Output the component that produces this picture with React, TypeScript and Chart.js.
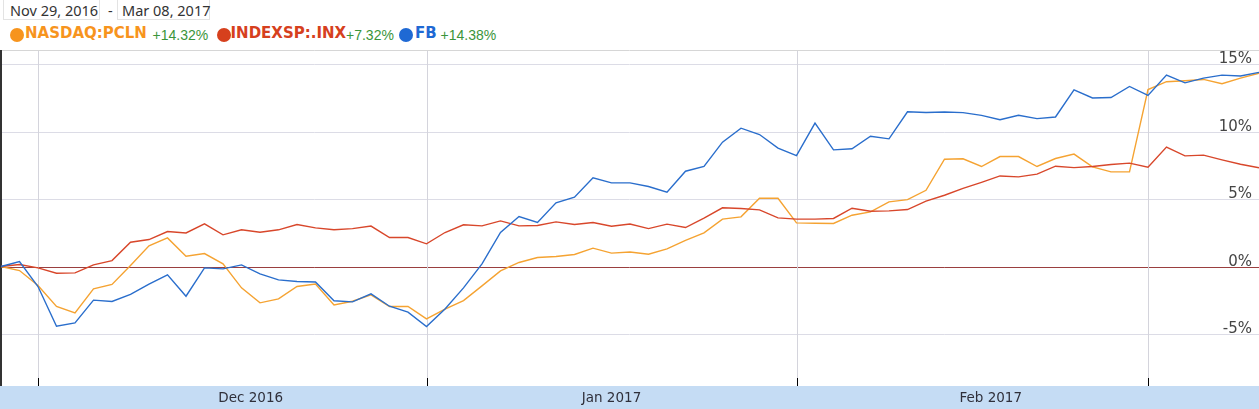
import React, { useEffect, useRef } from "react";
import { Chart, registerables } from "chart.js";

Chart.register(...registerables);

const dates = [
  "2016-11-29", "2016-11-30",
  "2016-12-01", "2016-12-02", "2016-12-05", "2016-12-06", "2016-12-07", "2016-12-08", "2016-12-09",
  "2016-12-12", "2016-12-13", "2016-12-14", "2016-12-15", "2016-12-16", "2016-12-19", "2016-12-20",
  "2016-12-21", "2016-12-22", "2016-12-23", "2016-12-27", "2016-12-28", "2016-12-29", "2016-12-30",
  "2017-01-03", "2017-01-04", "2017-01-05", "2017-01-06", "2017-01-09", "2017-01-10", "2017-01-11",
  "2017-01-12", "2017-01-13", "2017-01-17", "2017-01-18", "2017-01-19", "2017-01-20", "2017-01-23",
  "2017-01-24", "2017-01-25", "2017-01-26", "2017-01-27", "2017-01-30", "2017-01-31",
  "2017-02-01", "2017-02-02", "2017-02-03", "2017-02-06", "2017-02-07", "2017-02-08", "2017-02-09",
  "2017-02-10", "2017-02-13", "2017-02-14", "2017-02-15", "2017-02-16", "2017-02-17", "2017-02-21",
  "2017-02-22", "2017-02-23", "2017-02-24", "2017-02-27", "2017-02-28",
  "2017-03-01", "2017-03-02", "2017-03-03", "2017-03-06", "2017-03-07", "2017-03-08", "2017-03-09",
];

const pclnValues = [
  0, -0.3, -1.41, -2.96, -3.43, -1.65, -1.33, 0.07, 1.53, 2.12,
  0.77, 0.96, 0.2, -1.58, -2.69, -2.4, -1.48, -1.3, -2.84, -2.57,
  -2.1, -2.96, -2.96, -3.88, -3.16, -2.52, -1.43, -0.32, 0.3, 0.67,
  0.74, 0.89, 1.36, 0.99, 1.08, 0.91, 1.31, 1.93, 2.49, 3.51,
  3.68, 5.06, 5.06, 3.23, 3.21, 3.19, 3.8, 4.05, 4.79, 4.96,
  5.65, 7.95, 7.98, 7.41, 8.15, 8.15, 7.41, 8.0, 8.33, 7.38,
  7.01, 7.01, 13.11, 13.69, 13.76, 13.86, 13.54, 13.96, 14.32,
];

const spxValues = [
  0, 0.15, -0.1, -0.5, -0.47, 0.12, 0.44, 1.8, 2.0, 2.59,
  2.49, 3.16, 2.35, 2.72, 2.54, 2.72, 3.11, 2.86, 2.72, 2.81,
  3.0, 2.15, 2.15, 1.68, 2.52, 3.09, 3.01, 3.38, 3.01, 3.04,
  3.31, 3.11, 3.26, 2.99, 3.15, 2.81, 3.14, 2.89, 3.58, 4.35,
  4.3, 4.2, 3.6, 3.51, 3.51, 3.56, 4.32, 4.1, 4.12, 4.22,
  4.84, 5.28, 5.79, 6.24, 6.71, 6.64, 6.84, 7.43, 7.33, 7.41,
  7.56, 7.66, 7.36, 8.85, 8.2, 8.25, 7.9, 7.58, 7.32,
];

const fbValues = [
  0, 0.37, -1.48, -4.42, -4.17, -2.49, -2.59, -2.07, -1.31, -0.62,
  -2.2, -0.1, -0.17, 0.12, -0.54, -0.99, -1.11, -1.15, -2.54, -2.62,
  -2.02, -2.94, -3.38, -4.44, -3.14, -1.58, 0.2, 2.52, 3.7, 3.26,
  4.72, 5.14, 6.57, 6.2, 6.2, 5.93, 5.51, 7.06, 7.41, 9.21,
  10.25, 9.78, 8.77, 8.22, 10.62, 8.64, 8.72, 9.65, 9.46, 11.46,
  11.41, 11.45, 11.4, 11.2, 10.88, 11.2, 10.96, 11.08, 13.09, 12.49,
  12.52, 13.34, 12.67, 14.18, 13.61, 13.96, 14.18, 14.11, 14.38,
];

const seriesNames = ["NASDAQ:PCLN", "INDEXSP:.INX", "FB"];
const seriesChanges = ["+14.32%", "+7.32%", "+14.38%"];
const yTickValues = [15, 10, 5, 0, -5];
const yTickLabels = ["15%", "10%", "5%", "0%", "-5%"];
const monthStartIndex = [2, 23, 43, 62];
const monthLabels = ["Dec 2016", "Jan 2017", "Feb 2017"];
const monthLabelIndex = [13.5, 33, 53.5];
const dateFrom = "Nov 29, 2016";
const dateTo = "Mar 08, 2017";

const lineColors = ["#f5a332", "#d8472b", "#2a6ecc"];
const legendColors = ["#f7941d", "#d6401d", "#1f69d4"];

const decorPlugin = {
  id: "decor",
  beforeDatasetsDraw(chart: any) {
    const { ctx, chartArea: a, scales } = chart;
    const x = scales.x;
    const y = scales.y;
    const W = chart.width;
    const H = chart.height;
    const line = (x1: number, y1: number, x2: number, y2: number) => {
      ctx.beginPath();
      ctx.moveTo(x1, y1);
      ctx.lineTo(x2, y2);
      ctx.stroke();
    };
    ctx.save();
    ctx.fillStyle = "#c5dcf4";
    ctx.fillRect(0, a.bottom, W, H - a.bottom);
    ctx.lineWidth = 1;
    yTickValues.forEach((v) => {
      const py = Math.round(y.getPixelForValue(v)) + 0.5;
      ctx.strokeStyle = v === 0 ? "#9a3f3f" : "#dcdce6";
      line(0, py, W, py);
    });
    monthStartIndex.forEach((i) => {
      const px = Math.round(x.getPixelForValue(i)) + 0.5;
      ctx.strokeStyle = "#d4d4dc";
      line(px, a.top, px, a.bottom - 8);
      ctx.strokeStyle = "#000";
      line(px, a.bottom - 8, px, a.bottom);
    });
    ctx.strokeStyle = "#d6d6d6";
    line(0, 0.5, W, 0.5);
    ctx.fillStyle = "#333";
    ctx.fillRect(0, 0, 2, a.bottom);
    ctx.font = "13.5px 'DejaVu Sans'";
    ctx.fillStyle = "#2f2f3a";
    ctx.textAlign = "center";
    ctx.textBaseline = "alphabetic";
    monthLabels.forEach((t, k) => {
      ctx.fillText(t, x.getPixelForValue(monthLabelIndex[k]), a.bottom + 15.5);
    });
    ctx.font = "15px 'DejaVu Sans'";
    ctx.fillStyle = "#444";
    ctx.textAlign = "right";
    yTickValues.forEach((v, k) => {
      const py = Math.round(y.getPixelForValue(v));
      ctx.fillText(yTickLabels[k], W - 7, py - 1.5);
    });
    ctx.restore();
  },
};

const abs = (o: React.CSSProperties): React.CSSProperties => ({
  position: "absolute",
  whiteSpace: "nowrap",
  margin: 0,
  padding: 0,
  ...o,
});

export default function App() {
  const canvasRef = useRef<HTMLCanvasElement | null>(null);

  useEffect(() => {
    if (!canvasRef.current) return;
    const chart = new Chart(canvasRef.current, {
      type: "line",
      data: {
        labels: dates,
        datasets: [
          {
            label: seriesNames[0],
            data: pclnValues,
            borderColor: lineColors[0],
            borderWidth: 1.4,
            pointRadius: 0,
            tension: 0,
            fill: false,
            order: 2,
          },
          {
            label: seriesNames[1],
            data: spxValues,
            borderColor: lineColors[1],
            borderWidth: 1.4,
            pointRadius: 0,
            tension: 0,
            fill: false,
            order: 1,
          },
          {
            label: seriesNames[2],
            data: fbValues,
            borderColor: lineColors[2],
            borderWidth: 1.4,
            pointRadius: 0,
            tension: 0,
            fill: false,
            order: 0,
          },
        ],
      },
      options: {
        animation: false,
        responsive: true,
        maintainAspectRatio: false,
        layout: { padding: { left: 1, right: 0, top: 0, bottom: 23 } },
        plugins: { legend: { display: false }, tooltip: { enabled: false } },
        scales: {
          x: { type: "category", display: false, offset: false },
          y: { type: "linear", display: false, min: -8.85, max: 16.04 },
        },
      },
      plugins: [decorPlugin],
    });
    return () => chart.destroy();
  }, []);

  const headerFont = "'Noto Sans', sans-serif";
  const nameLefts = [25, 230.5, 415];
  const changeLefts = [152.5, 346, 440.5];
  const circleLefts = [9.5, 217, 399];

  return (
    <div style={abs({ left: 0, top: 0, width: 1259, height: 409, background: "#fff", overflow: "hidden" })}>
      <div style={abs({ left: 3, top: -1, width: 97, height: 21, border: "1px solid #e3e3e3", boxSizing: "border-box" })} />
      <div style={abs({ left: 117, top: -1, width: 93, height: 21, border: "1px solid #e3e3e3", boxSizing: "border-box" })} />
      <span style={abs({ left: 10, top: 2.8, fontFamily: headerFont, fontSize: 14.5, lineHeight: "14.5px", color: "#333" })}>{dateFrom}</span>
      <span style={abs({ left: 108, top: 2.8, fontFamily: headerFont, fontSize: 14.5, lineHeight: "14.5px", color: "#333" })}>-</span>
      <span style={abs({ left: 122, top: 2.8, fontFamily: headerFont, fontSize: 14.5, lineHeight: "14.5px", color: "#333" })}>{dateTo}</span>
      {seriesNames.map((n, k) => (
        <React.Fragment key={n}>
          <div style={abs({ left: circleLefts[k], top: 27.5, width: 14, height: 14, borderRadius: "50%", background: legendColors[k] })} />
          <span style={abs({ left: nameLefts[k], top: 25.6, fontFamily: "'DejaVu Sans', sans-serif", fontWeight: "bold", fontSize: 15, lineHeight: "15px", color: legendColors[k] })}>{n}</span>
          <span style={abs({ left: changeLefts[k], top: 28, fontFamily: "'Liberation Sans', Arial, sans-serif", fontSize: 14, lineHeight: "14px", color: "#3a953a" })}>{seriesChanges[k]}</span>
        </React.Fragment>
      ))}
      <div style={abs({ left: 0, top: 50, width: 1259, height: 359 })}>
        <canvas ref={canvasRef} />
      </div>
    </div>
  );
}
